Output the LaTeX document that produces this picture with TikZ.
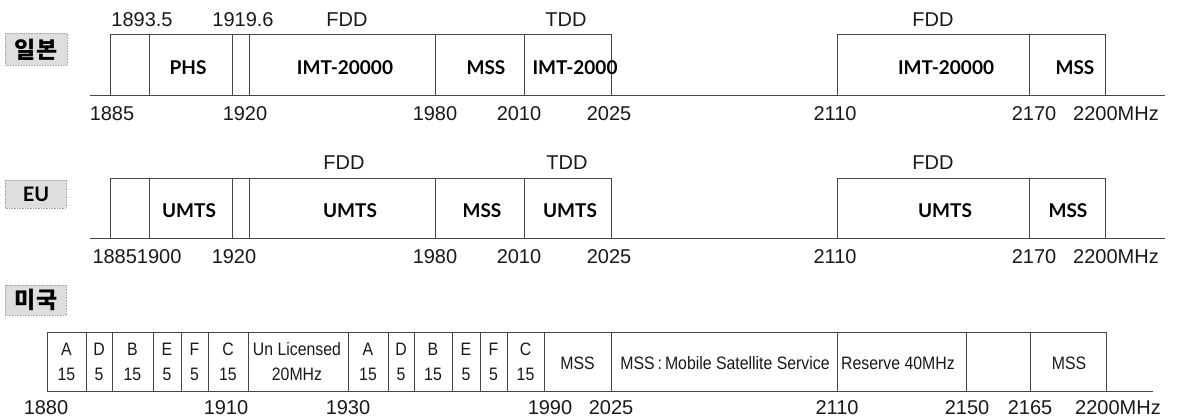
\documentclass[tikz,border=0pt]{standalone}
\usepackage{fontspec}
\setmainfont{DejaVu Sans}
\newfontfamily\axisfont{Liberation Sans}
\newfontfamily\boxfont{Lato}
\newfontfamily\narrowfont{Liberation Sans}[FakeStretch=0.88]
\newfontfamily\krfont{Noto Sans CJK KR}
\definecolor{linec}{RGB}{70,70,70}
\definecolor{tagbg}{RGB}{222,222,222}
\tikzset{
  band/.style={draw=linec, line width=0.9pt},
  baseln/.style={draw=linec, line width=1pt},
  axl/.style={inner sep=0pt, font=\axisfont\fontsize{20}{22}\selectfont, text=black!90},
  bl/.style={inner sep=0pt, font=\boxfont\bfseries\fontsize{19}{21}\selectfont, text=black},
  nl/.style={inner sep=0pt, align=center, font=\narrowfont\fontsize{18}{25}\selectfont, text=black!90},
  tagbox/.style={draw=black!35, densely dotted, fill=tagbg, line width=0.6pt},
  tagtxt/.style={inner sep=0pt, font=\krfont\bfseries\fontsize{23}{25}\selectfont},
  tagtxtl/.style={inner sep=0pt, font=\boxfont\bfseries\fontsize{20}{22}\selectfont},
}
\begin{document}
\begin{tikzpicture}[x=1pt,y=-1pt]
\useasboundingbox[fill=white] (0,0) rectangle (1181,420);

% ---------- Japan ----------
\draw[tagbox] (5,33) rectangle (67,65);
\node[tagtxt] (jp) at (36,50) {일본};
\foreach \a/\b in {110/149,149/232,232/249,249/435,435/524,524/611,837/1029,1029/1105}
  \draw[band] (\a,95) -- (\a,34) -- (\b,34) -- (\b,95);
\draw[baseln] (90,95) -- (1165,95);
\node[bl] (j1) at (188,68) {PHS};
\node[bl] (j2) at (345,68) {IMT-20000};
\node[bl] (j3) at (486,68) {MSS};
\node[bl] (j4) at (575,68) {IMT-2000};
\node[bl] (j5) at (946,68) {IMT-20000};
\node[bl] (j6) at (1075,68) {MSS};
\node[axl] (jt1) at (142,20) {1893.5};
\node[axl] (jt2) at (243,20) {1919.6};
\node[axl] (jt3) at (347,20) {FDD};
\node[axl] (jt4) at (566,20) {TDD};
\node[axl] (jt5) at (933,20) {FDD};
\node[axl] (jb1) at (112,114) {1885};
\node[axl] (jb2) at (245,114) {1920};
\node[axl] (jb3) at (435,114) {1980};
\node[axl] (jb4) at (519,114) {2010};
\node[axl] (jb5) at (609,114) {2025};
\node[axl] (jb6) at (835,114) {2110};
\node[axl] (jb7) at (1034,114) {2170};
\node[axl] (jb8) at (1116,114) {2200MHz};

% ---------- EU ----------
\draw[tagbox] (5,180) rectangle (66,208);
\node[tagtxtl] (eu) at (36,194) {EU};
\foreach \a/\b in {110/149,149/232,232/249,249/435,435/524,524/611,837/1029,1029/1105}
  \draw[band] (\a,238) -- (\a,178) -- (\b,178) -- (\b,238);
\draw[baseln] (90,238) -- (1165,238);
\node[bl] (e1) at (189,211) {UMTS};
\node[bl] (e2) at (350,211) {UMTS};
\node[bl] (e3) at (482,211) {MSS};
\node[bl] (e4) at (570,211) {UMTS};
\node[bl] (e5) at (945,211) {UMTS};
\node[bl] (e6) at (1068,211) {MSS};
\node[axl] (et3) at (344,163) {FDD};
\node[axl] (et4) at (567,163) {TDD};
\node[axl] (et5) at (933,163) {FDD};
\node[axl] (eb1) at (137,257) {18851900};
\node[axl] (eb2) at (234,257) {1920};
\node[axl] (eb3) at (435,257) {1980};
\node[axl] (eb4) at (519,257) {2010};
\node[axl] (eb5) at (609,257) {2025};
\node[axl] (eb6) at (835,257) {2110};
\node[axl] (eb7) at (1034,257) {2170};
\node[axl] (eb8) at (1116,257) {2200MHz};

% ---------- USA ----------
\draw[tagbox] (5,285) rectangle (66,315);
\node[tagtxt] (us) at (36,300) {미국};
\foreach \a/\b in {47/86,86/112,112/153,153/181,181/208,208/248,248/348,348/388,388/414,414/452,452/480,480/507,507/544,544/611,611/837,837/966,966/1030,1030/1106}
  \draw[band] (\a,391) -- (\a,332) -- (\b,332) -- (\b,391);
\draw[baseln] (47,391) -- (1153,391);
\node[nl] (u1) at (66.5,362) {A\\15};
\node[nl] (u2) at (99,362) {D\\5};
\node[nl] (u3) at (132.5,362) {B\\15};
\node[nl] (u4) at (167,362) {E\\5};
\node[nl] (u5) at (194.5,362) {F\\5};
\node[nl] (u6) at (228,362) {C\\15};
\node[nl] (u7) at (297,362) {Un Licensed\\20MHz};
\node[nl] (u8) at (368,362) {A\\15};
\node[nl] (u9) at (401,362) {D\\5};
\node[nl] (u10) at (433,362) {B\\15};
\node[nl] (u11) at (466,362) {E\\5};
\node[nl] (u12) at (493.5,362) {F\\5};
\node[nl] (u13) at (525.5,362) {C\\15};
\node[nl] (u14) at (577.5,363) {MSS};
\node[nl] (u15) at (725,363) {MSS\,:\,Mobile Satellite Service};
\node[nl] (u16) at (898,363) {Reserve 40MHz};
\node[nl] (u17) at (1069,363) {MSS};
\node[axl] (ub1) at (46,408) {1880};
\node[axl] (ub2) at (226,408) {1910};
\node[axl] (ub3) at (348,408) {1930};
\node[axl] (ub4) at (550,408) {1990};
\node[axl] (ub5) at (611,408) {2025};
\node[axl] (ub6) at (837,408) {2110};
\node[axl] (ub7) at (967,408) {2150};
\node[axl] (ub8) at (1030,408) {2165};
\node[axl] (ub9) at (1118,408) {2200MHz};
\end{tikzpicture}
\end{document}
